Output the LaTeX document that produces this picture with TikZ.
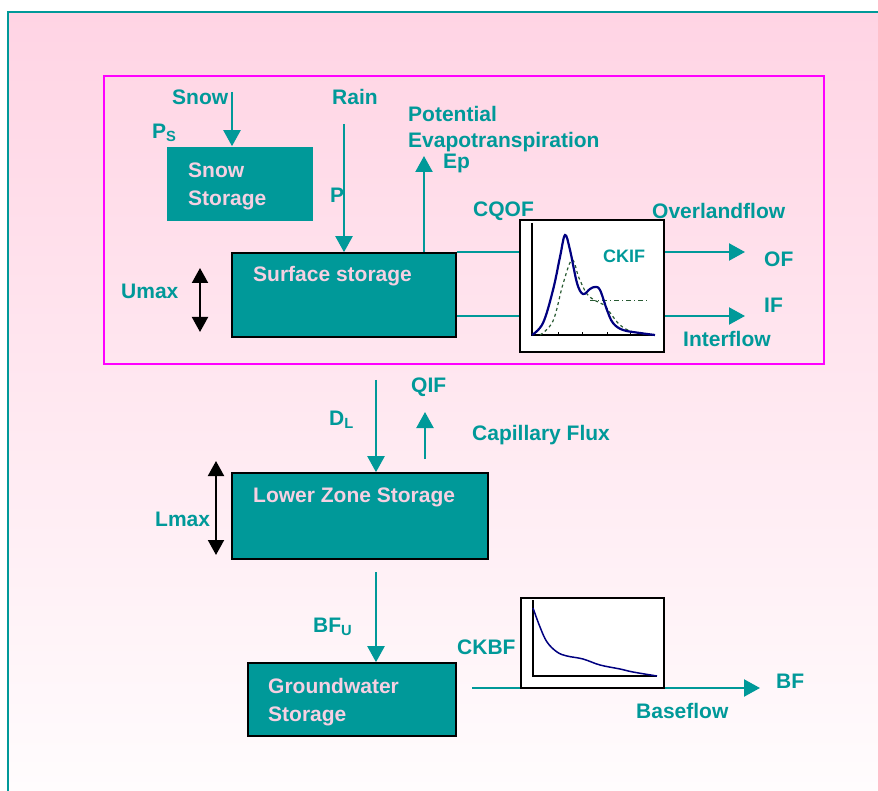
\documentclass[tikz,border=0pt]{standalone}
\usepackage{fontspec}
\setmainfont{Liberation Sans}
\usetikzlibrary{arrows.meta,calc}

\definecolor{hbvteal}{RGB}{0,153,153}
\definecolor{boxtext}{RGB}{246,208,226}
\definecolor{bgtop}{RGB}{255,212,228}
\definecolor{bgbot}{RGB}{255,252,253}
\definecolor{zonepink}{RGB}{255,0,255}
\definecolor{hydroblue}{RGB}{0,0,128}
\definecolor{hydrogreen}{RGB}{40,90,50}

\tikzset{
  lbl/.style={text=hbvteal, anchor=west, inner sep=0pt, font=\bfseries\fontsize{21}{25}\selectfont},
  boxtxt/.style={text=boxtext, anchor=west, inner sep=0pt, align=left, font=\bfseries\fontsize{21}{28}\selectfont},
  store/.style={fill=hbvteal, draw=black, line width=1.6pt, inner sep=0pt},
  hydrobox/.style={fill=white, draw=black, line width=1.6pt, inner sep=0pt},
  flow/.style={draw=hbvteal, line width=2.2pt, -{Triangle[width=17pt,length=16pt]}},
  link/.style={draw=hbvteal, line width=2.2pt},
  capacity/.style={draw=black, line width=2pt, {Triangle[width=16pt,length=15pt]}-{Triangle[width=16pt,length=15pt]}},
}

\begin{document}
\begin{tikzpicture}[x=1pt,y=-1pt]
\useasboundingbox (0,0) rectangle (878,791);
\fill[white] (0,0) rectangle (878,791);
% slide background and frame
\shade[top color=bgtop, bottom color=bgbot] (8,12) rectangle (878,791);
\draw[hbvteal, line width=2pt] (8,791) -- (8,12) -- (878,12);

% upper zone frame
\node[draw=zonepink, line width=2pt, minimum width=720pt, minimum height=288pt, inner sep=0pt] (zone) at (464,220) {};

% storages
\node[store, draw=none, minimum width=146pt, minimum height=74pt] (snowbox) at (240,184) {};
\node[store, minimum width=224pt, minimum height=84pt] (surface) at (344,295) {};
\node[store, minimum width=256pt, minimum height=86pt] (lower) at (360,516) {};
\node[store, minimum width=208pt, minimum height=73pt] (ground) at (352,699.5) {};

\node[boxtxt] (snowtxt) at (188,186) {Snow\\Storage};
\node[boxtxt] (surftxt) at (253,276) {Surface storage};
\node[boxtxt] (lowertxt) at (253,497) {Lower Zone Storage};
\node[boxtxt] (groundtxt) at (268,702) {Groundwater\\Storage};

% free ends of connectors
\coordinate (snowtop) at (232,92);
\coordinate (raintop) at (344,124);
\coordinate (eptop) at (424,156);
\coordinate (ofend) at (745,252);
\coordinate (ifend) at (745,316);
\coordinate (umaxtop) at (200,268);
\coordinate (umaxbot) at (200,332);
\coordinate (dltop) at (376,380);
\coordinate (qifbot) at (425,459);
\coordinate (qiftop) at (425,412);
\coordinate (lmaxtop) at (216,461);
\coordinate (lmaxbot) at (216,555);
\coordinate (bfutop) at (376,572);
\coordinate (bfstart) at (472,688);
\coordinate (bfend) at (760,688);

% baseflow line runs beneath the recession graph
\draw[flow] (bfstart) -- (bfend);

% runoff response graphs
\node[hydrobox, minimum width=144pt, minimum height=132pt] (hydroif) at (592,286) {};
\node[hydrobox, minimum width=143pt, minimum height=90pt] (hydrobf) at (592.5,643) {};

% quick flow graph
\draw[black, line width=1.3pt] (532,223) -- (532,335) -- (655,335);
\foreach \t in {558,582,607,630} \draw[black, line width=0.8pt] (\t,335) -- (\t,332);
\draw[hydrogreen, line width=1pt, dash pattern=on 5pt off 3pt on 1pt off 3pt] (590,301) -- (648,301);
\draw[hydrogreen, line width=1.2pt, dashed] plot[smooth, tension=0.6] coordinates
  {(540,335) (553,321) (563,284) (572,260) (579,278) (587,294) (596,301) (604,305) (611,314) (620,325) (633,332) (653,335)};
\draw[hydroblue, line width=2.2pt] plot[smooth, tension=0.6] coordinates
  {(532,335) (543,323) (553,290) (560,257) (565,235) (570,250) (577,283) (583,294) (590,289) (595,287) (600,290) (607,310) (613,323) (623,330) (640,333) (655,335)};

% baseflow recession graph
\draw[black, line width=1.3pt] (533,600) -- (533,676) -- (657,676);
\draw[hydroblue, line width=1.5pt] plot[smooth, tension=0.6] coordinates
  {(533,608) (540,627) (547,642) (557,652) (567,656) (583,659) (600,665) (620,669) (633,672) (657,676)};

% flows
\draw[flow] (snowtop) -- (snowtop |- snowbox.north);
\draw[flow] (raintop) -- (raintop |- surface.north);
\draw[flow] (surface.north -| eptop) -- (eptop);
\draw[link] (surface.north east) -- (surface.north east -| hydroif.west);
\draw[link] (surface.east |- ifend) -- (hydroif.west |- ifend);
\draw[flow] (hydroif.east |- ofend) -- (ofend);
\draw[flow] (hydroif.east |- ifend) -- (ifend);
\draw[capacity] (umaxtop) -- (umaxbot);
\draw[flow] (dltop) -- (dltop |- lower.north);
\draw[flow] (qifbot) -- (qiftop);
\draw[capacity] (lmaxtop) -- (lmaxbot);
\draw[flow] (bfutop) -- (bfutop |- ground.north);

% labels
\node[lbl] (snowlbl) at (172,97) {Snow};
\node[lbl] (pslbl) at (152,133) {P\textsubscript{S}};
\node[lbl] (rainlbl) at (332,97) {Rain};
\node[lbl] (plbl) at (330,195) {P};
\node[lbl] (potlbl) at (408,114) {Potential};
\node[lbl] (evaplbl) at (408,142) {Evapotranspiration};
\node[lbl] (eplbl) at (443,163) {Ep};
\node[lbl] (cqoflbl) at (473,211) {CQOF};
\node[lbl] (overlbl) at (652,211) {Overlandflow};
\node[lbl, font=\bfseries\fontsize{18}{22}\selectfont] (ckiflbl) at (603,256) {CKIF};
\node[lbl] (oflbl) at (764,259) {OF};
\node[lbl] (iflbl) at (764,305) {IF};
\node[lbl] (interlbl) at (683,339) {Interflow};
\node[lbl] (umaxlbl) at (121,291) {Umax};
\node[lbl] (dllbl) at (329,420) {D\textsubscript{L}};
\node[lbl] (qiflbl) at (411,387) {QIF};
\node[lbl] (caplbl) at (472,435) {Capillary Flux};
\node[lbl] (lmaxlbl) at (155,519) {Lmax};
\node[lbl] (bfulbl) at (313,627) {BF\textsubscript{U}};
\node[lbl] (ckbflbl) at (457,647) {CKBF};
\node[lbl] (bflbl) at (776,681) {BF};
\node[lbl] (baselbl) at (636,711) {Baseflow};
\end{tikzpicture}
\end{document}
